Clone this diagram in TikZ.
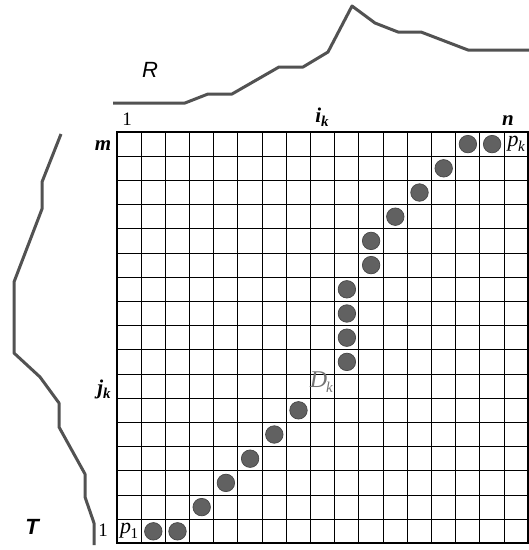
\documentclass[tikz,border=0pt]{standalone}
\usepackage{fontspec}
\setmainfont{Liberation Serif}
\setsansfont{Liberation Sans}
\begin{document}
\begin{tikzpicture}[x=1pt,y=-1pt,
  curve/.style={draw=black!68, line width=3pt, line join=round},
  gridline/.style={draw=black, line width=1.6pt},
  dot/.style={circle, fill=black!62, draw=black!72, line width=0.7pt, minimum size=17.5pt, inner sep=0pt},
  lab/.style={inner sep=0pt, font=\fontsize{19}{21}\selectfont},
  sublab/.style={inner sep=0pt, font=\fontsize{21}{23}\selectfont\bfseries\itshape},
  curvelab/.style={inner sep=0pt, font=\fontsize{22}{24}\selectfont\sffamily\itshape}]
\useasboundingbox (0,0) rectangle (529,550);
\fill[white] (0,0) rectangle (529,550);
% grid lines snapped to pixel centres
\foreach \i in {1,...,16} {
  \pgfmathsetmacro\xx{floor(117+24.2*\i)+0.5}
  \pgfmathsetmacro\yy{floor(543.4-24.2*\i)+0.5}
  \draw[gridline] (\xx,132) -- (\xx,543);
  \draw[gridline] (117,\yy) -- (528,\yy);
}
\draw[black, line width=2pt] (117,132) rectangle (528,543);
\begin{scope}[shift={(117,543.4)}, x=24.2pt, y=24.2pt]
  \foreach \c/\r [count=\n] in {2/1,3/1,4/2,5/3,6/4,7/5,8/6,10/8,10/9,10/10,10/11,11/12,11/13,12/14,13/15,14/16,15/17,16/17}
    \node[dot] (d\n) at (\c-0.5,\r-0.5) {};
  \node[lab, font=\fontsize{22}{24}\selectfont] (p1) at (0.5,0.5) {\textit{p}\kern-0.5pt\raisebox{-5pt}{\fontsize{15}{15}\selectfont 1}};
  \node[lab, font=\fontsize{22}{24}\selectfont] (pk) at (16.5,16.5) {\textit{p}\kern-0.5pt\raisebox{-5pt}{\fontsize{15}{15}\selectfont\textit{k}}};
  \node[lab, text=black!55, font=\fontsize{24}{26}\selectfont] (Dk) at (8.45,6.65) {\textit{D}\kern-1pt\raisebox{-5pt}{\fontsize{15}{15}\selectfont\textit{k}}};
\end{scope}
% axis labels
\node[lab] (one1) at (127,119) {1};
\node[sublab] (ik) at (322,117) {i\raisebox{-4pt}{\fontsize{15}{15}\selectfont k}};
\node[sublab] (n) at (508,121) {n};
\node[sublab] (m) at (103,146) {m};
\node[sublab] (jk) at (104,389) {j\raisebox{-4pt}{\fontsize{15}{15}\selectfont k}};
\node[lab] (one2) at (103,530) {1};
\node[curvelab] (R) at (150,70) {R};
\node[curvelab, font=\fontsize{22}{24}\selectfont\sffamily\itshape\bfseries] (T) at (32,527) {T};
% profile curves
\draw[curve] (113,103) -- (185,103) -- (208,94) -- (232,94) -- (279,67) -- (303,67) -- (328,52) -- (352,6) -- (375,23) -- (398,32) -- (421,32) -- (468,50) -- (529,50);
\draw[curve] (61,134) -- (42,182) -- (42,209) -- (14,282) -- (14,353) -- (40,377) -- (59,403) -- (59,427) -- (85,474) -- (85,497) -- (94,523) -- (94,545);
\end{tikzpicture}
\end{document}
